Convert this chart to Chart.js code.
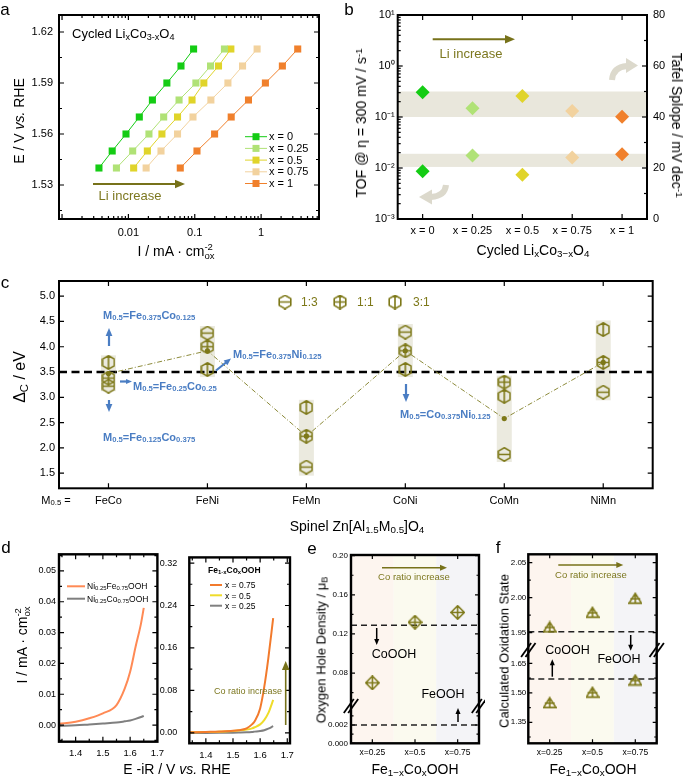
<!DOCTYPE html>
<html>
<head>
<meta charset="utf-8">
<script src="https://cdn.jsdelivr.net/npm/chart.js@4.4.1/dist/chart.umd.min.js"></script>
<style>
  body { margin: 0; background: #fff; }
  #fig { position: relative; width: 685px; height: 779px; overflow: hidden; font-family: "Liberation Sans", Arial, sans-serif; }
  #fig canvas { position: absolute; }
  .t { position: absolute; white-space: nowrap; color: #000; line-height: 1; }
  sub { font-size: 70%; vertical-align: -0.25em; line-height: 0; }
  sup { font-size: 70%; vertical-align: 0.45em; line-height: 0; }
  .ss { display: inline-block; font-size: 68%; line-height: 0.95; vertical-align: -0.3em; text-align: left; }
</style>
</head>
<body>
<div id="fig"></div>
<script>
// ---- panel a : Tafel plots ----
const aSeriesLabels = ["x = 0", "x = 0.25", "x = 0.5", "x = 0.75", "x = 1"];
const aPotential = [1.54, 1.55, 1.56, 1.57, 1.58, 1.59, 1.60, 1.61];
const aCurrX0 = [0.0036, 0.0057, 0.0092, 0.0146, 0.023, 0.038, 0.062, 0.096];
const aCurrX025 = [0.0066, 0.0116, 0.0204, 0.034, 0.058, 0.104, 0.173, 0.28];
const aCurrX05 = [0.012, 0.0193, 0.032, 0.055, 0.091, 0.137, 0.228, 0.35];
const aCurrX075 = [0.0185, 0.031, 0.055, 0.094, 0.175, 0.316, 0.525, 0.87];
const aCurrX1 = [0.0605, 0.108, 0.199, 0.354, 0.645, 1.16, 2.09, 3.56];
const aXTicks = [0.01, 0.1, 1];
const aYTicks = [1.53, 1.56, 1.59, 1.62];

// ---- panel b : TOF and Tafel slope ----
const bCategories = ["x = 0", "x = 0.25", "x = 0.5", "x = 0.75", "x = 1"];
const bTof = [0.0086, 0.0175, 0.0074, 0.016, 0.0186];
const bTafel = [49.7, 43.4, 48.2, 42.4, 40.1];
const bTofBand = [0.0105, 0.019];
const bTafelBand = [40, 50];
const bTofTicks = [0.001, 0.01, 0.1, 1, 10];
const bTofTickLabels = ["10⁻³", "10⁻²", "10⁻¹", "10⁰", "10¹"];
const bTafelTicks = [0, 20, 40, 60, 80];

// ---- panel c : spinel descriptor ----
const cCategories = ["FeCo", "FeNi", "FeMn", "CoNi", "CoMn", "NiMn"];
const cRatio13 = [3.22, 4.27, 1.62, 4.29, 1.87, 3.10];
const cRatio11 = [3.38, 4.00, 2.23, 3.92, 3.30, 3.69];
const cRatio31 = [3.69, 3.55, 2.80, 3.55, 3.02, 4.34];
const cMean = [3.47, 3.92, 2.23, 3.92, 2.58, 3.69];
const cBandLow = [3.12, 3.40, 1.45, 3.40, 1.72, 2.94];
const cBandHigh = [3.83, 4.41, 2.95, 4.45, 3.43, 4.52];
const cThreshold = 3.5;
const cYTicks = [1.5, 2.0, 2.5, 3.0, 3.5, 4.0, 4.5, 5.0];

// ---- panel d : polarisation curves ----
const dLeftE = [1.34, 1.40, 1.45, 1.50, 1.55, 1.58, 1.60, 1.62, 1.64, 1.65];
const dNiFe = [0.0004, 0.0011, 0.0022, 0.0038, 0.0065, 0.0118, 0.0173, 0.0254, 0.033, 0.038];
const dNiCo = [-0.0003, -0.0001, 0.0002, 0.0005, 0.0008, 0.0012, 0.0015, 0.0020, 0.0026, 0.0030];
const dRightE = [1.34, 1.40, 1.45, 1.50, 1.52, 1.55, 1.57, 1.58, 1.60, 1.615, 1.63, 1.648];
const dX075 = [0.001, 0.0018, 0.0025, 0.0038, 0.005, 0.0085, 0.016, 0.022, 0.046, 0.086, 0.14, 0.216];
const dX05 = [0.001, 0.0015, 0.0022, 0.0037, 0.0045, 0.0062, 0.0085, 0.0105, 0.016, 0.024, 0.037, 0.062];
const dX025 = [-0.0005, -0.0003, 0, 0.0004, 0.0006, 0.001, 0.0017, 0.0023, 0.0035, 0.005, 0.0078, 0.0125];
const dETicks = [1.4, 1.5, 1.6, 1.7];
const dLeftYTicks = [0, 0.01, 0.02, 0.03, 0.04, 0.05];
const dRightYTicks = [0, 0.08, 0.16, 0.24, 0.32];

// ---- panels e, f : oxygen hole density / oxidation state ----
const efCategories = ["x=0.25", "x=0.5", "x=0.75"];
const eHoleDensity = [0.070, 0.132, 0.142];
const eCoOOH = 0.129;
const eFeOOH = 0.002;
const eTicksUpper = [0.08, 0.12, 0.16, 0.20];
const eTicksLower = [0.000, 0.002];
const fOxUpper = [1.958, 1.979, 1.999];
const fOxLower = [1.45, 1.503, 1.565];
const fFeOOH = 1.951;
const fCoOOH = 1.570;
const fTicksUpper = [1.95, 2.00, 2.05];
const fTicksLower = [1.35, 1.50, 1.65];

const OLIVE = "#7d7818";
const BLUE = "#4a7dc3";
const LIX_COLORS = ["#14cc14", "#b0e276", "#e0d42a", "#f2d29e", "#f0802c"];
const EF_BG = ["#fdf5ef", "#fbfaef", "#f4f4f7"];

Chart.defaults.font.family = '"Liberation Sans", Arial, sans-serif';
Chart.defaults.color = "#000";
Chart.defaults.plugins.legend.display = false;
Chart.defaults.plugins.tooltip.enabled = false;

const fig = document.getElementById("fig");

// inward ticks on every side, frame, and extra drawing hooks
const framePlugin = {
  id: "frame",
  beforeDatasetsDraw(chart) {
    const f = chart.canvas._frame;
    if (!f || !f.under) return;
    chart.ctx.save();
    f.under(chart, chart.ctx);
    chart.ctx.restore();
  },
  afterDatasetsDraw(chart) {
    const f = chart.canvas._frame || {};
    const { ctx, chartArea: a } = chart;
    ctx.save();
    ctx.strokeStyle = "#000";
    ctx.lineWidth = f.tickWidth || 1.2;
    for (const m of f.marks || []) {
      const sc = chart.scales[m.scale];
      const sides = m.sides || (sc.isHorizontal() ? ["bottom", "top"] : ["left", "right"]);
      for (const v of m.values) {
        if (v < sc.min - 1e-9 || v > sc.max + 1e-9) continue;
        const p = sc.getPixelForValue(v);
        ctx.beginPath();
        if (sides.includes("bottom")) { ctx.moveTo(p, a.bottom); ctx.lineTo(p, a.bottom - m.len); }
        if (sides.includes("top")) { ctx.moveTo(p, a.top); ctx.lineTo(p, a.top + m.len); }
        if (sides.includes("left")) { ctx.moveTo(a.left, p); ctx.lineTo(a.left + m.len, p); }
        if (sides.includes("right")) { ctx.moveTo(a.right, p); ctx.lineTo(a.right - m.len, p); }
        ctx.stroke();
      }
    }
    ctx.lineWidth = f.frameWidth || 2;
    ctx.strokeRect(a.left, a.top, a.width, a.height);
    ctx.restore();
  },
  afterDraw(chart) {
    const f = chart.canvas._frame;
    if (!f || !f.pageOver) return;
    const ctx = chart.ctx;
    ctx.save();
    ctx.translate(-f.off[0], -f.off[1]);
    f.pageOver(ctx, chart);
    ctx.restore();
  }
};
Chart.register(framePlugin);

function makeChart(left, top, w, h, cfg, frame) {
  const cv = document.createElement("canvas");
  cv.width = w;
  cv.height = h;
  cv.style.left = left + "px";
  cv.style.top = top + "px";
  cv.style.width = w + "px";
  cv.style.height = h + "px";
  fig.appendChild(cv);
  frame.off = [left, top];
  cv._frame = frame;
  cfg.options.responsive = false;
  cfg.options.animation = false;
  cfg.options.layout.autoPadding = false;
  return new Chart(cv, cfg);
}

function numAxis(o) {
  const vertical = o.position === "left" || o.position === "right";
  return Object.assign({
    type: o.type || "linear",
    min: o.min,
    max: o.max,
    position: o.position,
    grid: { display: false, drawTicks: false },
    border: { display: false },
    afterBuildTicks: s => { s.ticks = o.ticks.map(v => ({ value: v })); },
    afterFit: s => { if (vertical) s.width = o.fit; else s.height = o.fit; },
    ticks: { color: "#000", font: { size: o.size }, padding: o.pad, autoSkip: false, maxRotation: 0, callback: o.fmt }
  }, o.extra || {});
}

function catAxis(size, pad, fit) {
  return {
    type: "category",
    offset: true,
    grid: { display: false, drawTicks: false },
    border: { display: false },
    ticks: { color: "#000", font: { size }, padding: pad, autoSkip: false, maxRotation: 0 },
    afterFit: s => { s.height = fit; }
  };
}

function txt(html, x, y, o = {}) {
  const d = document.createElement("div");
  d.className = "t";
  d.innerHTML = html;
  d.style.left = x + "px";
  d.style.top = y + "px";
  d.style.fontSize = (o.size || 12) + "px";
  if (o.color) d.style.color = o.color;
  if (o.bold) d.style.fontWeight = "bold";
  const ax = o.align === "left" ? "0" : o.align === "right" ? "-100%" : "-50%";
  d.style.transform = "translate(" + ax + ", -50%)" + (o.rot ? " rotate(" + o.rot + "deg)" : "");
  fig.appendChild(d);
}

function arrow(ctx, x1, y1, x2, y2, color, lw, head) {
  const ang = Math.atan2(y2 - y1, x2 - x1);
  const c = Math.cos(ang), s = Math.sin(ang);
  ctx.strokeStyle = color;
  ctx.fillStyle = color;
  ctx.lineWidth = lw;
  ctx.setLineDash([]);
  ctx.beginPath();
  ctx.moveTo(x1, y1);
  ctx.lineTo(x2 - head * c * 0.8, y2 - head * s * 0.8);
  ctx.stroke();
  ctx.beginPath();
  ctx.moveTo(x2, y2);
  ctx.lineTo(x2 - head * c + head * 0.42 * s, y2 - head * s - head * 0.42 * c);
  ctx.lineTo(x2 - head * c - head * 0.42 * s, y2 - head * s + head * 0.42 * c);
  ctx.closePath();
  ctx.fill();
}

function hLine(ctx, x1, x2, y, color, lw) {
  ctx.strokeStyle = color;
  ctx.lineWidth = lw;
  ctx.beginPath();
  ctx.moveTo(x1, y);
  ctx.lineTo(x2, y);
  ctx.stroke();
}

function breakMark(ctx, x, y) {
  ctx.strokeStyle = "#000";
  ctx.lineWidth = 1.8;
  for (const o of [-2.2, 2.2]) {
    ctx.beginPath();
    ctx.moveTo(x - 5 + o, y + 7);
    ctx.lineTo(x + 5 + o, y - 7);
    ctx.stroke();
  }
}

// open olive markers used as point styles
function marker(kind, w, h, lw) {
  const c = document.createElement("canvas");
  c.width = w;
  c.height = h;
  const g = c.getContext("2d");
  g.strokeStyle = OLIVE;
  g.lineWidth = lw;
  const cx = w / 2, cy = h / 2;
  g.beginPath();
  if (kind.startsWith("hex")) {
    const r = h / 2 - lw / 2, hw = r * Math.sqrt(3) / 2;
    const pts = [[cx, cy - r], [cx + hw, cy - r / 2], [cx + hw, cy + r / 2], [cx, cy + r], [cx - hw, cy + r / 2], [cx - hw, cy - r / 2]];
    g.moveTo(pts[0][0], pts[0][1]);
    pts.slice(1).forEach(p => g.lineTo(p[0], p[1]));
    g.closePath();
    if (kind === "hexH" || kind === "hexPlus") { g.moveTo(cx - hw, cy); g.lineTo(cx + hw, cy); }
    if (kind === "hexV" || kind === "hexPlus") { g.moveTo(cx, cy - r); g.lineTo(cx, cy + r); }
  } else if (kind === "diamondPlus") {
    const rx = w / 2 - lw / 2, ry = h / 2 - lw / 2;
    g.moveTo(cx, cy - ry); g.lineTo(cx + rx, cy); g.lineTo(cx, cy + ry); g.lineTo(cx - rx, cy); g.closePath();
    g.moveTo(cx - rx, cy); g.lineTo(cx + rx, cy);
    g.moveTo(cx, cy - ry); g.lineTo(cx, cy + ry);
  } else if (kind === "triPlus") {
    const top = lw, bot = h - lw, hw = w / 2 - lw / 2;
    g.moveTo(cx, top); g.lineTo(cx + hw, bot); g.lineTo(cx - hw, bot); g.closePath();
    const my = top + (bot - top) * 0.55;
    g.moveTo(cx - hw * 0.8, my); g.lineTo(cx + hw * 0.8, my);
    g.moveTo(cx, top); g.lineTo(cx, bot);
  }
  g.stroke();
  return c;
}

const HEX_H = marker("hexH", 14, 15, 1.6);
const HEX_PLUS = marker("hexPlus", 14, 15, 1.6);
const HEX_V = marker("hexV", 14, 15, 1.6);
const DIAMOND_PLUS = marker("diamondPlus", 15, 15, 1.6);
const TRI_PLUS = marker("triPlus", 14, 13, 1.6);

function logMinor(k0, k1) {
  const out = [];
  for (let k = k0; k <= k1; k++) for (let m = 2; m <= 9; m++) out.push(m * Math.pow(10, k));
  return out;
}

// ================= a =================
const aSeries = [aCurrX0, aCurrX025, aCurrX05, aCurrX075, aCurrX1];
makeChart(0, 0, 340, 250, {
  type: "line",
  data: {
    datasets: aSeries.map((cur, i) => ({
      label: aSeriesLabels[i],
      data: cur.map((c, j) => ({ x: c, y: aPotential[j] })),
      borderColor: LIX_COLORS[i],
      backgroundColor: LIX_COLORS[i],
      borderWidth: 1,
      pointStyle: "rect",
      pointRadius: 5,
      pointBorderWidth: 0
    }))
  },
  options: {
    layout: { padding: { top: 15, right: 21, left: 0, bottom: 0 } },
    scales: {
      x: numAxis({ type: "logarithmic", min: 0.0009, max: 7.45, ticks: aXTicks, fmt: v => String(v), size: 11, pad: 7, fit: 31, position: "bottom" }),
      y: numAxis({ min: 1.51, max: 1.63, ticks: aYTicks, fmt: v => v.toFixed(2), size: 11, pad: 6, fit: 59, position: "left" })
    }
  }
}, {
  marks: [
    { scale: "x", values: [0.001, 0.01, 0.1, 1], len: 5 },
    { scale: "x", values: logMinor(-3, 0), len: 3 },
    { scale: "y", values: aYTicks, len: 5 },
    { scale: "y", values: [1.515, 1.545, 1.575, 1.605], len: 3 }
  ],
  pageOver(ctx) {
    // legend
    ctx.font = '11px "Liberation Sans", Arial, sans-serif';
    ctx.textBaseline = "middle";
    aSeriesLabels.forEach((lab, i) => {
      const y = 136.7 + i * 11.7;
      hLine(ctx, 245, 267, y, LIX_COLORS[i], 1);
      ctx.fillStyle = LIX_COLORS[i];
      ctx.fillRect(252.5, y - 3.5, 7, 7);
      ctx.fillStyle = "#000";
      ctx.fillText(lab, 269, y + 0.5);
    });
    arrow(ctx, 93, 184, 185, 184, "#77721a", 2, 10);
  }
});

// ================= b =================
makeChart(340, 0, 345, 250, {
  type: "line",
  data: {
    labels: bCategories,
    datasets: [
      { data: bTof, yAxisID: "y", showLine: false, pointStyle: "rectRot", pointRadius: 7, pointBorderWidth: 0, backgroundColor: LIX_COLORS },
      { data: bTafel, yAxisID: "y2", showLine: false, pointStyle: "rectRot", pointRadius: 7, pointBorderWidth: 0, backgroundColor: LIX_COLORS }
    ]
  },
  options: {
    layout: { padding: { top: 15, right: 0, left: 0, bottom: 0 } },
    scales: {
      x: catAxis(11, 5, 31),
      y: numAxis({ type: "logarithmic", min: 0.001, max: 10, ticks: bTofTicks, fmt: (v, i) => bTofTickLabels[i], size: 11, pad: 3, fit: 57.7, position: "left" }),
      y2: numAxis({ min: 0, max: 80, ticks: bTafelTicks, fmt: v => String(v), size: 11, pad: 6, fit: 38, position: "right" })
    }
  }
}, {
  marks: [
    { scale: "x", values: [0, 1, 2, 3, 4], len: 5 },
    { scale: "y", values: bTofTicks, len: 5, sides: ["left"] },
    { scale: "y", values: logMinor(-3, 0), len: 3, sides: ["left"] },
    { scale: "y2", values: bTafelTicks, len: 5, sides: ["right"] },
    { scale: "y2", values: [10, 30, 50, 70], len: 3, sides: ["right"] }
  ],
  under(chart, ctx) {
    const a = chart.chartArea;
    const y2 = chart.scales.y2, y = chart.scales.y;
    ctx.fillStyle = "#e9e7dc";
    const t1 = y2.getPixelForValue(bTafelBand[1]), t0 = y2.getPixelForValue(bTafelBand[0]);
    ctx.fillRect(a.left, t1, a.width, t0 - t1);
    const l1 = y.getPixelForValue(bTofBand[1]), l0 = y.getPixelForValue(bTofBand[0]);
    ctx.fillRect(a.left, l1, a.width, l0 - l1);
  },
  pageOver(ctx) {
    arrow(ctx, 432.7, 39.3, 515, 39.3, "#77721a", 2, 10);
    // curved grey hint arrows
    ctx.strokeStyle = "#dcd9cc";
    ctx.fillStyle = "#dcd9cc";
    ctx.lineWidth = 6;
    ctx.beginPath();
    ctx.moveTo(612, 80);
    ctx.quadraticCurveTo(613, 67, 627, 66);
    ctx.stroke();
    ctx.beginPath();
    ctx.moveTo(626, 58); ctx.lineTo(638, 65.5); ctx.lineTo(626, 73); ctx.closePath();
    ctx.fill();
    ctx.beginPath();
    ctx.moveTo(446, 185);
    ctx.quadraticCurveTo(445, 196, 431, 197);
    ctx.stroke();
    ctx.beginPath();
    ctx.moveTo(432, 189.5); ctx.lineTo(419, 197); ctx.lineTo(432, 204.5); ctx.closePath();
    ctx.fill();
  }
});

// ================= c =================
makeChart(0, 260, 685, 275, {
  type: "line",
  data: {
    labels: cCategories,
    datasets: [
      { data: cMean, borderColor: "#8c8a3a", borderWidth: 1, borderDash: [5, 2, 1, 2], pointRadius: 2.6, pointBorderWidth: 0, backgroundColor: OLIVE },
      { data: cRatio13, showLine: false, pointStyle: HEX_H, pointRadius: 7 },
      { data: cRatio11, showLine: false, pointStyle: HEX_PLUS, pointRadius: 7 },
      { data: cRatio31, showLine: false, pointStyle: HEX_V, pointRadius: 7 }
    ]
  },
  options: {
    layout: { padding: { top: 21, right: 32.3, left: 0, bottom: 0 } },
    scales: {
      x: catAxis(11, 6, 46.7),
      y: numAxis({ min: 1.2, max: 5.3, ticks: cYTicks, fmt: v => v.toFixed(1), size: 11, pad: 4, fit: 59, position: "left" })
    }
  }
}, {
  marks: [
    { scale: "x", values: [0, 1, 2, 3, 4, 5], len: 5 },
    { scale: "y", values: cYTicks, len: 5 }
  ],
  under(chart, ctx) {
    const x = chart.scales.x, y = chart.scales.y, a = chart.chartArea;
    ctx.fillStyle = "#ebeadf";
    cCategories.forEach((_, i) => {
      const px = x.getPixelForValue(i);
      const y1 = y.getPixelForValue(cBandHigh[i]), y2 = y.getPixelForValue(cBandLow[i]);
      ctx.fillRect(px - 7.5, y1, 15, y2 - y1);
    });
    const ty = y.getPixelForValue(cThreshold);
    ctx.strokeStyle = "#000";
    ctx.lineWidth = 2.7;
    ctx.setLineDash([8, 4.5]);
    ctx.beginPath();
    ctx.moveTo(a.left, ty);
    ctx.lineTo(a.right, ty);
    ctx.stroke();
  },
  pageOver(ctx) {
    // ratio legend
    ctx.font = '12px "Liberation Sans", Arial, sans-serif';
    ctx.textBaseline = "middle";
    ctx.fillStyle = OLIVE;
    [[HEX_H, 285, "1:3", 301], [HEX_PLUS, 340, "1:1", 357], [HEX_V, 395, "3:1", 413]].forEach(([img, mx, lab, tx]) => {
      ctx.drawImage(img, mx - img.width / 2, 302 - img.height / 2);
      ctx.fillText(lab, tx, 302.5);
    });
    arrow(ctx, 109, 346, 109, 328, BLUE, 2.2, 8);
    arrow(ctx, 120, 381.5, 132, 381.5, BLUE, 2.2, 6);
    arrow(ctx, 109, 400, 109, 412, BLUE, 2.2, 8);
    arrow(ctx, 216, 370.5, 231, 358.5, BLUE, 2.2, 7);
    arrow(ctx, 406, 384, 406, 402, BLUE, 2.2, 8);
  }
});

// ================= d (left) =================
makeChart(0, 540, 170, 239, {
  type: "line",
  data: {
    datasets: [
      { data: dLeftE.map((e, i) => ({ x: e, y: dNiFe[i] })), borderColor: "#ff8a55", borderWidth: 2, pointRadius: 0, cubicInterpolationMode: "monotone" },
      { data: dLeftE.map((e, i) => ({ x: e, y: dNiCo[i] })), borderColor: "#7f7f7f", borderWidth: 2, pointRadius: 0, cubicInterpolationMode: "monotone" }
    ]
  },
  options: {
    layout: { padding: { top: 14.3, right: 5.7, left: 0, bottom: 0 } },
    scales: {
      x: numAxis({ min: 1.339, max: 1.7, ticks: dETicks, fmt: v => v.toFixed(1), size: 9.5, pad: 6, fit: 37.3, position: "bottom" }),
      y: numAxis({ min: -0.0054, max: 0.0554, ticks: dLeftYTicks, fmt: v => v.toFixed(2), size: 9, pad: 3, fit: 59, position: "left" })
    }
  }
}, {
  frameWidth: 2.4,
  marks: [
    { scale: "x", values: dETicks, len: 5 },
    { scale: "x", values: [1.35, 1.45, 1.55, 1.65], len: 3 },
    { scale: "y", values: dLeftYTicks, len: 5 },
    { scale: "y", values: [-0.005, 0.005, 0.015, 0.025, 0.035, 0.045, 0.055], len: 3 }
  ],
  pageOver(ctx) {
    hLine(ctx, 67, 85, 586.3, "#ff8a55", 2);
    hLine(ctx, 67, 85, 598.7, "#7f7f7f", 2);
  }
});

// ================= d (right) =================
makeChart(160, 540, 140, 239, {
  type: "line",
  data: {
    datasets: [
      { data: dRightE.map((e, i) => ({ x: e, y: dX075[i] })), borderColor: "#f27a2c", borderWidth: 2, pointRadius: 0, cubicInterpolationMode: "monotone" },
      { data: dRightE.map((e, i) => ({ x: e, y: dX05[i] })), borderColor: "#efdc2a", borderWidth: 2, pointRadius: 0, cubicInterpolationMode: "monotone" },
      { data: dRightE.map((e, i) => ({ x: e, y: dX025[i] })), borderColor: "#808080", borderWidth: 2, pointRadius: 0, cubicInterpolationMode: "monotone" }
    ]
  },
  options: {
    layout: { padding: { top: 15, right: 4.3, left: 0, bottom: 0 } },
    scales: {
      x: numAxis({ min: 1.339, max: 1.71, ticks: dETicks, fmt: v => v.toFixed(1), size: 9.5, pad: 6, fit: 35.7, position: "bottom" }),
      y: numAxis({ min: -0.0197, max: 0.3306, ticks: dRightYTicks, fmt: v => v.toFixed(2), size: 9, pad: 12, fit: 29.3, position: "left" })
    }
  }
}, {
  frameWidth: 2.4,
  marks: [
    { scale: "x", values: dETicks, len: 5 },
    { scale: "x", values: [1.35, 1.45, 1.55, 1.65], len: 3 },
    { scale: "y", values: dRightYTicks, len: 5 },
    { scale: "y", values: [0.04, 0.12, 0.20, 0.28], len: 3 }
  ],
  pageOver(ctx) {
    hLine(ctx, 210, 222, 585, "#f27a2c", 2);
    hLine(ctx, 210, 222, 595.3, "#efdc2a", 2);
    hLine(ctx, 210, 222, 605.7, "#808080", 2);
    arrow(ctx, 285.7, 725, 285.7, 661, "#77721a", 1.6, 9);
  }
});

// ================= e =================
makeChart(300, 540, 185, 239, {
  type: "line",
  data: {
    labels: efCategories,
    datasets: [
      { data: eHoleDensity, yAxisID: "yU", showLine: false, pointStyle: DIAMOND_PLUS, pointRadius: 7 }
    ]
  },
  options: {
    layout: { padding: { top: 15, right: 6, left: 0, bottom: 0 } },
    scales: {
      x: catAxis(8.5, 4, 35.7),
      yU: numAxis({ min: 0.0456, max: 0.2007, ticks: eTicksUpper, fmt: v => v.toFixed(2), size: 8, pad: 3, fit: 51, position: "left", extra: { stack: "e", stackWeight: 151.7, weight: 2 } }),
      yL: numAxis({ min: 0, max: 0.004, ticks: eTicksLower, fmt: v => v.toFixed(3), size: 8, pad: 3, fit: 51, position: "left", extra: { stack: "e", stackWeight: 36.6, weight: 1 } })
    }
  }
}, {
  frameWidth: 2.4,
  marks: [
    { scale: "x", values: [0, 1, 2], len: 4 },
    { scale: "yU", values: eTicksUpper, len: 4 },
    { scale: "yU", values: [0.06, 0.10, 0.14, 0.18], len: 2.5 },
    { scale: "yL", values: eTicksLower, len: 4 },
    { scale: "yL", values: [0.001, 0.003], len: 2.5 }
  ],
  under(chart, ctx) {
    const a = chart.chartArea, w = a.width / efCategories.length;
    EF_BG.forEach((col, i) => { ctx.fillStyle = col; ctx.fillRect(a.left + i * w, a.top, w, a.height); });
    ctx.strokeStyle = "#222";
    ctx.lineWidth = 1.5;
    ctx.setLineDash([6, 4]);
    [chart.scales.yU.getPixelForValue(eCoOOH), chart.scales.yL.getPixelForValue(eFeOOH)].forEach(py => {
      ctx.beginPath(); ctx.moveTo(a.left, py); ctx.lineTo(a.right, py); ctx.stroke();
    });
  },
  pageOver(ctx) {
    arrow(ctx, 382, 567.7, 447, 567.7, "#77721a", 1.5, 7);
    arrow(ctx, 376.7, 628, 376.7, 645, "#000", 1.5, 6);
    arrow(ctx, 458, 722, 458, 708, "#000", 1.5, 6);
    breakMark(ctx, 351, 706);
    breakMark(ctx, 479, 706);
  }
});

// ================= f =================
makeChart(485, 540, 200, 239, {
  type: "line",
  data: {
    labels: efCategories,
    datasets: [
      { data: fOxUpper, yAxisID: "yU", showLine: false, pointStyle: TRI_PLUS, pointRadius: 7 },
      { data: fOxLower, yAxisID: "yL", showLine: false, pointStyle: TRI_PLUS, pointRadius: 7 }
    ]
  },
  options: {
    layout: { padding: { top: 14.3, right: 28.3, left: 0, bottom: 0 } },
    scales: {
      x: catAxis(8.5, 4, 35.7),
      yU: numAxis({ min: 1.925, max: 2.062, ticks: fTicksUpper, fmt: v => v.toFixed(2), size: 8, pad: 2, fit: 43.3, position: "left", extra: { stack: "f", stackWeight: 95.7, weight: 2 } }),
      yL: numAxis({ min: 1.243, max: 1.718, ticks: fTicksLower, fmt: v => v.toFixed(2), size: 8, pad: 2, fit: 43.3, position: "left", extra: { stack: "f", stackWeight: 93.3, weight: 1 } })
    }
  }
}, {
  frameWidth: 2.4,
  marks: [
    { scale: "x", values: [0, 1, 2], len: 4 },
    { scale: "yU", values: fTicksUpper, len: 4 },
    { scale: "yU", values: [1.975, 2.025], len: 2.5 },
    { scale: "yL", values: fTicksLower, len: 4 },
    { scale: "yL", values: [1.275, 1.425, 1.575], len: 2.5 }
  ],
  under(chart, ctx) {
    const a = chart.chartArea, w = a.width / efCategories.length;
    EF_BG.forEach((col, i) => { ctx.fillStyle = col; ctx.fillRect(a.left + i * w, a.top, w, a.height); });
    ctx.strokeStyle = "#222";
    ctx.lineWidth = 1.5;
    ctx.setLineDash([6, 4]);
    [chart.scales.yU.getPixelForValue(fFeOOH), chart.scales.yL.getPixelForValue(fCoOOH)].forEach(py => {
      ctx.beginPath(); ctx.moveTo(a.left, py); ctx.lineTo(a.right, py); ctx.stroke();
    });
  },
  pageOver(ctx) {
    arrow(ctx, 558.3, 565, 623.3, 565, "#77721a", 1.5, 7);
    arrow(ctx, 552.3, 676.7, 552.3, 659.3, "#000", 1.5, 6);
    arrow(ctx, 630.7, 635, 630.7, 650.7, "#000", 1.5, 6);
    breakMark(ctx, 528.3, 650);
    breakMark(ctx, 656.7, 650);
  }
});

// ================= text =================
const OLIVE_TXT = "#7d7820";
txt("a", 5, 9, { size: 17 });
txt("b", 349, 9, { size: 17 });
txt("c", 5, 282, { size: 17 });
txt("d", 6, 547, { size: 17 });
txt("e", 312, 548, { size: 17 });
txt("f", 498, 547, { size: 17 });

// a
txt("Cycled Li<sub>x</sub>Co<sub>3-x</sub>O<sub>4</sub>", 72, 33, { size: 13, align: "left" });
txt("E / V <i>vs.</i> RHE", 19, 121, { size: 14, rot: -90 });
txt("I / mA · cm<span class='ss'>-2<br>ox</span>", 176, 251, { size: 14 });
txt("Li increase", 130, 195, { size: 13, color: OLIVE_TXT });

// b
txt("Li increase", 471, 53, { size: 13, color: OLIVE_TXT });
txt("TOF @ η = 300 mV / s<sup>-1</sup>", 361, 123, { size: 14, rot: -90 });
txt("Tafel Splope / mV dec<sup>-1</sup>", 677, 125, { size: 14, rot: 90 });
txt("Cycled Li<sub>x</sub>Co<sub>3−x</sub>O<sub>4</sub>", 533, 250, { size: 14 });

// c
txt("Δ<sub>C</sub> / eV", 20, 377, { size: 16, rot: -90 });
txt("M<sub>0.5</sub> =", 56, 500, { size: 11 });
txt("Spinel Zn[Al<sub>1.5</sub>M<sub>0.5</sub>]O<sub>4</sub>", 357, 526, { size: 14 });
const cNote = { size: 11, bold: true, color: BLUE, align: "left" };
txt("M<sub>0.5</sub>=Fe<sub>0.375</sub>Co<sub>0.125</sub>", 103, 315, cNote);
txt("M<sub>0.5</sub>=Fe<sub>0.25</sub>Co<sub>0.25</sub>", 133, 386, cNote);
txt("M<sub>0.5</sub>=Fe<sub>0.125</sub>Co<sub>0.375</sub>", 103, 437, cNote);
txt("M<sub>0.5</sub>=Fe<sub>0.375</sub>Ni<sub>0.125</sub>", 233, 354, cNote);
txt("M<sub>0.5</sub>=Co<sub>0.375</sub>Ni<sub>0.125</sub>", 400, 414, cNote);

// d
txt("I / mA · cm<span class='ss'>-2<br>ox</span>", 22, 645, { size: 14, rot: -90 });
txt("E -iR / V <i>vs.</i> RHE", 177, 769, { size: 14 });
txt("Ni<sub>0.25</sub>Fe<sub>0.75</sub>OOH", 87, 586, { size: 8.5, align: "left" });
txt("Ni<sub>0.25</sub>Co<sub>0.75</sub>OOH", 87, 598.5, { size: 8.5, align: "left" });
txt("Fe<sub>1-x</sub>Co<sub>x</sub>OOH", 208, 570, { size: 8.5, bold: true, align: "left" });
txt("x = 0.75", 225, 585.3, { size: 8.5, align: "left" });
txt("x = 0.5", 225, 595.6, { size: 8.5, align: "left" });
txt("x = 0.25", 225, 606, { size: 8.5, align: "left" });
txt("Co ratio increase", 282, 691, { size: 9, color: OLIVE_TXT, align: "right" });

// e
txt("Oxygen Hole Density / μ<sub>B</sub>", 321, 650, { size: 13, rot: -90 });
txt("Fe<sub>1−x</sub>Co<sub>x</sub>OOH", 415, 769, { size: 14 });
txt("Co ratio increase", 414, 577, { size: 9.5, color: OLIVE_TXT });
txt("CoOOH", 394, 654, { size: 12.5 });
txt("FeOOH", 443, 694, { size: 12.5 });

// f
txt("Calculated Oxidation State", 504, 651, { size: 13, rot: -90 });
txt("Fe<sub>1−x</sub>Co<sub>x</sub>OOH", 593, 769, { size: 14 });
txt("Co ratio increase", 591, 575, { size: 9.5, color: OLIVE_TXT });
txt("CoOOH", 567.5, 650, { size: 12.5 });
txt("FeOOH", 619, 659, { size: 12.5 });
</script>
</body>
</html>
